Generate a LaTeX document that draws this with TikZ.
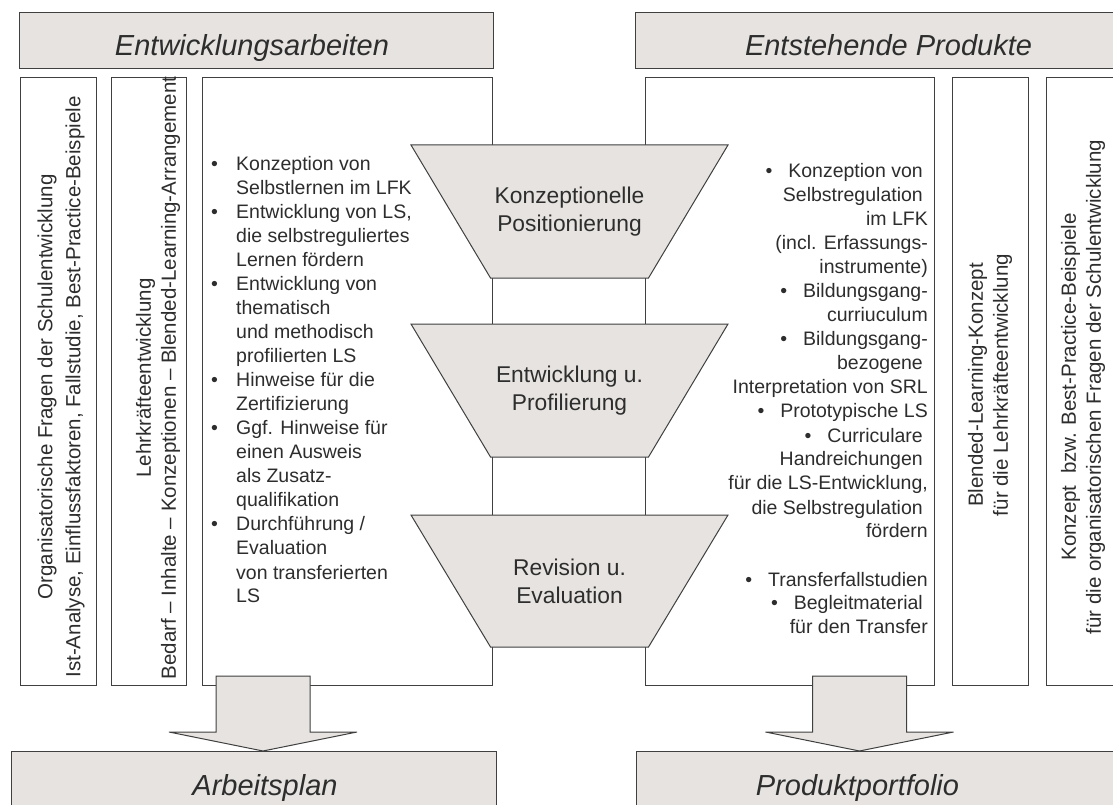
\documentclass[tikz,border=0pt]{standalone}
\usepackage{fontspec}
\setmainfont{Liberation Sans}
\definecolor{boxgray}{RGB}{230,227,224}
\definecolor{linegray}{RGB}{64,64,64}
\definecolor{textgray}{RGB}{45,45,45}
\newcommand{\listfont}{\fontsize{19.5}{24}\selectfont}
\newcommand{\lsitem}[1]{\par\hangindent=25pt\hangafter=1\noindent\makebox[25pt][l]{\textbullet}#1}
\newcommand{\rbul}{\textbullet\hspace{16pt}}
\newcommand{\tsp}{\hspace*{5pt}\null}
\tikzset{
  head/.style={draw=linegray, fill=boxgray, line width=1pt, inner sep=0pt},
  column/.style={draw=linegray, fill=white, line width=1pt, inner sep=0pt},
  stage/.style={draw=linegray, fill=boxgray, line width=1pt},
  headtext/.style={font=\fontsize{29}{34}\selectfont\itshape, text=textgray, inner sep=0pt},
  sidetext/.style={font=\fontsize{20.5}{25}\selectfont, text=textgray, rotate=90, align=center, inner sep=0pt},
  stagetext/.style={font=\fontsize{22.8}{28}\selectfont, text=textgray, align=center, inner sep=0pt},
  listtext/.style={text=textgray, inner sep=0pt},
}
\begin{document}
\begin{tikzpicture}[x=1pt, y=-1pt]
  \useasboundingbox (0,0) rectangle (1113,805);
  % headers
  \node [head, minimum width=473.4pt, minimum height=56.7pt] (hdL) at (256.3,40.65) {};
  \node [head, minimum width=507pt, minimum height=56.7pt] (hdR) at (888.5,40.65) {};
  \node [headtext, anchor=base] (hdLtext) at (252,56) {Entwicklungsarbeiten};
  \node [headtext, anchor=base] (hdRtext) at (888.5,56) {Entstehende Produkte};
  % columns
  \node [column, minimum width=76pt, minimum height=607pt] (colA) at (58,381.5) {};
  \node [column, minimum width=75pt, minimum height=607pt] (colB) at (148.5,381.5) {};
  \node [column, minimum width=290pt, minimum height=607pt] (colC) at (347,381.5) {};
  \node [column, minimum width=289pt, minimum height=607pt] (colD) at (789.5,381.5) {};
  \node [column, minimum width=76pt, minimum height=607pt] (colE) at (990,381.5) {};
  \node [column, minimum width=76pt, minimum height=607pt] (colF) at (1084,381.5) {};
  \node [sidetext, font=\fontsize{20.5}{28}\selectfont] (sideA) at (61,387)
    {Organisatorische Fragen der Schulentwicklung\\Ist-Analyse, Einflussfaktoren, Fallstudie, Best-Practice-Beispiele};
  \node [sidetext] (sideB) at (158,378)
    {Lehrkräfteentwicklung\\Bedarf -- Inhalte -- Konzeptionen -- Blended-Learning-Arrangement};
  \node [sidetext] (sideE) at (990,385)
    {Blended-Learning-Konzept\\für die Lehrkräfteentwicklung};
  \node [sidetext] (sideF) at (1083,387)
    {Konzept~ bzw. Best-Practice-Beispiele\\für die organisatorischen Fragen der Schulentwicklung};
  % lists
  \node [listtext, anchor=base west] (workList) at (211,171) {\parbox[t]{250pt}{\listfont
    \lsitem{Konzeption von\\Selbstlernen im LFK}
    \lsitem{Entwicklung von LS,\\die selbstreguliertes\\Lernen fördern}
    \lsitem{Entwicklung von\\thematisch\\und methodisch\\profilierten LS}
    \lsitem{Hinweise für die\\Zertifizierung}
    \lsitem{Ggf. Hinweise für\\einen Ausweis\\als Zusatz-\\qualifikation}
    \lsitem{Durchführung /\\Evaluation\\von transferierten\\LS}}};
  \node [listtext, anchor=base east] (prodList) at (928,178) {\parbox[t]{270pt}{\listfont\raggedleft
    \rbul Konzeption von\tsp\\
    Selbstregulation\tsp\\
    im LFK\\
    (incl. Erfassungs-\\
    instrumente)\\
    \rbul Bildungsgang-\\
    curriuculum\\
    \rbul Bildungsgang-\\
    bezogene\tsp\\
    Interpretation von SRL\\
    \rbul Prototypische LS\\
    \rbul Curriculare\tsp\\
    Handreichungen\tsp\\
    für die LS-Entwicklung,\\
    die Selbstregulation\tsp\\
    fördern\\[24pt]
    \rbul Transferfallstudien\\
    \rbul Begleitmaterial\tsp\\
    für den Transfer}};
  % stages
  \foreach \yt/\yb/\name/\txt in {145/278/stageA/{Konzeptionelle\\Positionierung},
      324/457/stageB/{Entwicklung u.\\Profilierung}, 515/647/stageC/{Revision u.\\Evaluation}} {
    \draw [stage] (411,\yt) -- (728,\yt) -- (648.5,\yb) -- (490.5,\yb) -- cycle;
    \node [stagetext] (\name) at (569.5,{(\yt+\yb)/2}) {\txt};
  }
  % footers and block arrows
  \node [head, minimum width=484.6pt, minimum height=57pt] (ftL) at (253.7,779.5) {};
  \node [head, minimum width=506pt, minimum height=57pt] (ftR) at (889,779.5) {};
  \node [headtext, anchor=base] (ftLtext) at (265,795) {Arbeitsplan};
  \node [headtext, anchor=base] (ftRtext) at (857.5,795) {Produktportfolio};
  \foreach \cx in {263,859.5}
    \draw [stage] ({\cx-47},676) -- ({\cx+47},676) -- ({\cx+47},732) -- ({\cx+94},732)
      -- (\cx,751) -- ({\cx-94},732) -- ({\cx-47},732) -- cycle;
\end{tikzpicture}
\end{document}
